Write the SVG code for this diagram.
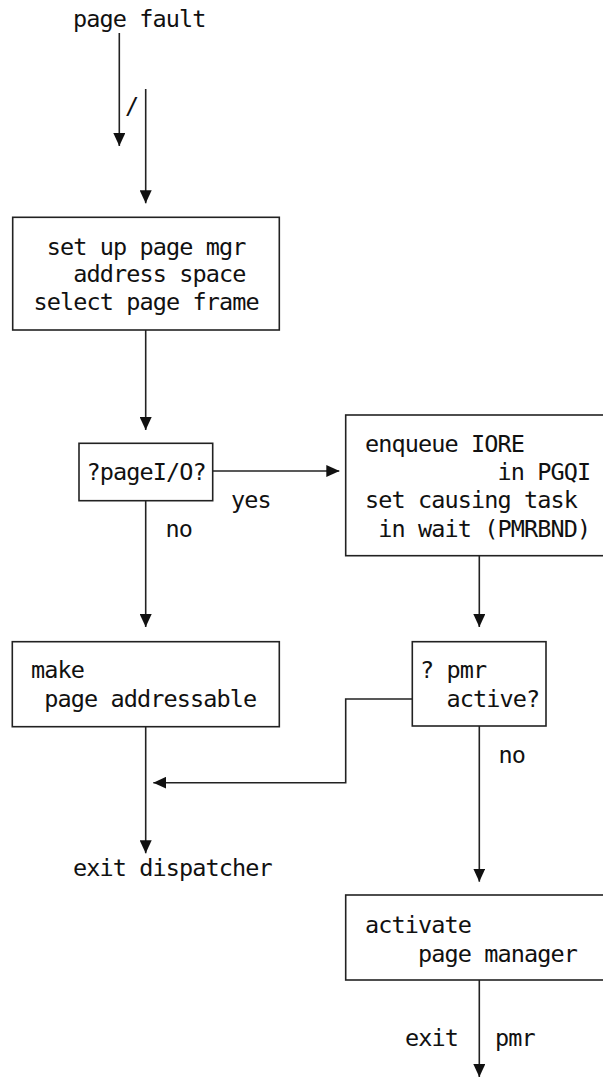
<svg xmlns="http://www.w3.org/2000/svg" width="603" height="1078" viewBox="0 0 603 1078">
<defs>
<style>
text{font-family:"DejaVu Sans Mono","Liberation Mono",monospace;font-size:23.5px;letter-spacing:-0.9px;fill:#111}
.box{fill:#fff;stroke:#222;stroke-width:1.6}
.edge{fill:none;stroke:#222;stroke-width:1.6}
</style>
<marker id="ah" markerUnits="userSpaceOnUse" markerWidth="13" markerHeight="12" refX="13" refY="6" orient="auto">
<path d="M0,0 L13,6 L0,12 z" fill="#111"/>
</marker>
</defs>
<rect width="603" height="1078" fill="#fff"/>
<g id="connectors">
<path class="edge" d="M119.3,33 V146" marker-end="url(#ah)"/>
<path class="edge" d="M145.7,89 V203.3" marker-end="url(#ah)"/>
<path class="edge" d="M145.7,330 V430" marker-end="url(#ah)"/>
<path class="edge" d="M212.7,471 H339.3" marker-end="url(#ah)"/>
<path class="edge" d="M145.7,500.7 V627" marker-end="url(#ah)"/>
<path class="edge" d="M479.3,555.7 V627" marker-end="url(#ah)"/>
<path class="edge" d="M412.3,699 H345.7 V782.7 H153.3" marker-end="url(#ah)"/>
<path class="edge" d="M145.7,726.7 V853.3" marker-end="url(#ah)"/>
<path class="edge" d="M479.3,726 V881.7" marker-end="url(#ah)"/>
<path class="edge" d="M479.3,980 V1077" marker-end="url(#ah)"/>
<text x="125" y="114">/</text>
<text x="231" y="508">yes</text>
<text x="165.5" y="537">no</text>
<text x="498.5" y="763">no</text>
<text x="405" y="1046">exit</text>
<text x="495" y="1046">pmr</text>
</g>
<g id="start">
<text x="73" y="27">page fault</text>
</g>
<g id="setup">
<rect class="box" x="12.7" y="217.3" width="266.6" height="112.7"/>
<text x="46.7" y="254.5">set up page mgr</text>
<text x="73.2" y="282">address space</text>
<text x="33.5" y="309.5">select page frame</text>
</g>
<g id="pageio">
<rect class="box" x="79" y="443.3" width="133.7" height="57.4"/>
<text x="86.5" y="480">?pageI/O?</text>
</g>
<g id="enqueue">
<rect class="box" x="345.7" y="415" width="270" height="140.7"/>
<text x="365" y="451.7">enqueue IORE</text>
<text x="497.4" y="480">in PGQI</text>
<text x="365" y="508">set causing task</text>
<text x="378.2" y="536.7">in wait (PMRBND)</text>
</g>
<g id="addressable">
<rect class="box" x="12.3" y="641.7" width="267" height="85"/>
<text x="31" y="678">make</text>
<text x="44.2" y="707">page addressable</text>
</g>
<g id="pmractive">
<rect class="box" x="412.3" y="641.7" width="133.7" height="84.3"/>
<text x="420" y="678">? pmr</text>
<text x="446.5" y="707">active?</text>
</g>
<g id="exitdisp">
<text x="73" y="876">exit dispatcher</text>
</g>
<g id="activate">
<rect class="box" x="345.7" y="895" width="270" height="85"/>
<text x="365" y="933">activate</text>
<text x="418" y="962">page manager</text>
</g>
</svg>
